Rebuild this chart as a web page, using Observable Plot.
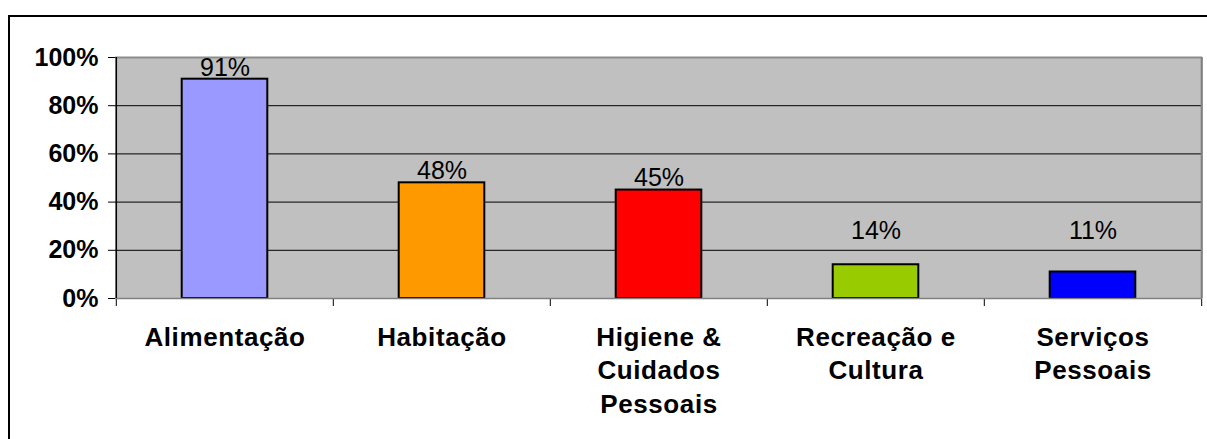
<!DOCTYPE html>
<html><head><meta charset="utf-8">
<script src="https://cdn.jsdelivr.net/npm/d3@7"></script>
<script src="https://cdn.jsdelivr.net/npm/@observablehq/plot@0.6"></script>
<style>
html,body{margin:0;padding:0;background:#fff;overflow:hidden;}
#wrap{position:relative;width:1207px;height:439px;overflow:hidden;}
#chart{position:absolute;left:0;top:0;}
#border{position:absolute;left:8px;top:15px;width:1400px;height:600px;border-left:2px solid #000;border-top:2px solid #000;pointer-events:none;}
</style></head><body>
<div id="wrap"><div id="chart"></div><div id="border"></div></div>
<script>
const categories = ["Alimentação", "Habitação", "Higiene &\nCuidados\nPessoais", "Recreação e\nCultura", "Serviços\nPessoais"];
const values = [0.91, 0.48, 0.45, 0.14, 0.11];
const colors = ["#9999ff", "#ff9900", "#ff0000", "#99cc00", "#0000ff"];
const yTicks = [0, 0.2, 0.4, 0.6, 0.8, 1];
const gridTicks = [0.2, 0.4, 0.6, 0.8];

const data = categories.map((c, i) => ({category: c, value: values[i], color: colors[i]}));

const W = 1207, H = 439, ML = 115, MR = 5, MT = 57, MB = 141;
const bw = (W - ML - MR) / categories.length;
const barW = 86;
const inset = (bw - barW) / 2;
const pct = d3.format(".0%");
const font = "'Liberation Sans', Arial, sans-serif";
const first = categories[0], last = categories[categories.length - 1];

const plot = Plot.plot({
  width: W, height: H,
  marginLeft: ML, marginRight: MR, marginTop: MT, marginBottom: MB,
  style: {fontFamily: font, background: "transparent", overflow: "visible", color: "#000"},
  x: {domain: categories, padding: 0, axis: null},
  y: {domain: [0, 1], axis: null},
  color: {type: "identity"},
  marks: [
    Plot.ruleX(categories, {x: d => d, dx: -bw / 2, insetBottom: -8, stroke: "#000", strokeWidth: 1}),
    Plot.ruleX([last], {x: d => d, dx: bw / 2, insetBottom: -8, stroke: "#000", strokeWidth: 1}),
    Plot.frame({fill: "#c0c0c0", stroke: null}),
    Plot.ruleY(gridTicks, {y: d => d, stroke: "#000", strokeWidth: 1}),
    Plot.barY(data, {x: "category", y: "value", fill: "color", stroke: "#000", strokeWidth: 2, insetLeft: inset, insetRight: inset}),
    Plot.ruleY([1], {y: d => d, stroke: "#8c8c8c", strokeWidth: 2}),
    Plot.ruleY([0], {y: d => d, stroke: "#808080", strokeWidth: 1.5}),
    Plot.ruleX([last], {x: d => d, dx: bw / 2, stroke: "#808080", strokeWidth: 2}),
    Plot.ruleX([first], {x: d => d, dx: -bw / 2, stroke: "#000", strokeWidth: 1.5}),
    Plot.axisY(yTicks, {tickFormat: pct, tickSize: 7, tickPadding: 10, fontSize: 25, fontWeight: "bold", label: null, stroke: "#000", fill: "#000"}),
    Plot.text(data, {x: "category", y: d => Math.max(d.value + 0.015, 0.245), text: d => pct(d.value), lineAnchor: "bottom", fontSize: 25, fontWeight: "normal", fill: "#000"}),
    Plot.text(data, {x: "category", frameAnchor: "bottom", text: "category", lineAnchor: "top", dy: 23, lineHeight: 1.3, fontSize: 26, fontWeight: "bold", fill: "#000"})
  ]
});
document.getElementById("chart").appendChild(plot);
const catSet = new Set(categories.map(c => c.replace(/\n/g, "")));
plot.querySelectorAll("text").forEach(t => {
  if (catSet.has(t.textContent)) t.setAttribute("letter-spacing", "0.6px");
});
</script>
</body></html>
